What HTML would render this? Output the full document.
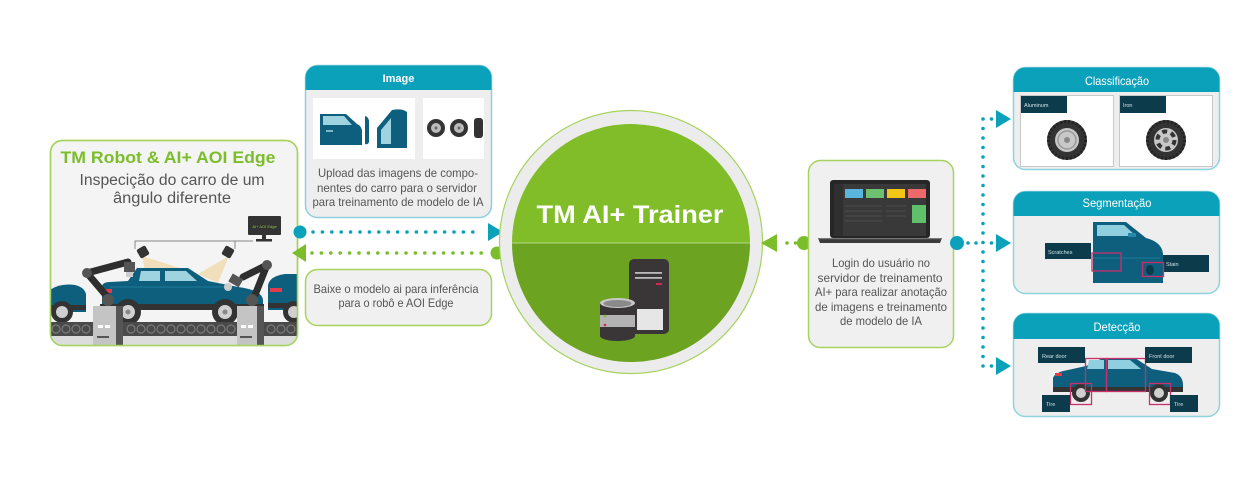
<!DOCTYPE html>
<html><head><meta charset="utf-8"><style>
html,body{margin:0;padding:0;background:#fff;}
svg{display:block;font-family:"Liberation Sans",sans-serif;}
</style></head><body>
<svg width="1240" height="484" viewBox="0 0 1240 484" xmlns="http://www.w3.org/2000/svg">
<defs>
<clipPath id="lp"><rect x="50.5" y="140.5" width="247" height="205" rx="12"/></clipPath>
</defs>
<rect width="1240" height="484" fill="#fff"/>

<!-- LEFT PANEL -->
<rect x="50.5" y="140.5" width="247" height="205" rx="12" fill="#f4f4f4" stroke="#a6d35e" stroke-width="1.5"/>
<text x="168" y="163" text-anchor="middle" font-size="16.5" font-weight="bold" fill="#7bbd2b" textLength="215" lengthAdjust="spacingAndGlyphs">TM Robot &amp; AI+ AOI Edge</text>
<text x="172" y="185" text-anchor="middle" font-size="15.5" fill="#555" textLength="185" lengthAdjust="spacingAndGlyphs">Inspecição do carro de um</text>
<text x="172" y="203" text-anchor="middle" font-size="15.5" fill="#555" textLength="118" lengthAdjust="spacingAndGlyphs">ângulo diferente</text>
<g clip-path="url(#lp)">
  <!-- monitor -->
  <rect x="248" y="216" width="33" height="19" rx="1" fill="#333"/>
  <text x="264.5" y="228" text-anchor="middle" font-size="4" fill="#8bc34a">AI+ AOI Edge</text>
  <rect x="262" y="235" width="4" height="5" fill="#333"/>
  <rect x="256" y="239" width="16" height="2.5" fill="#333"/>
  <path d="M253 241 H135 V249 M235 241 V249" stroke="#888" stroke-width="1" fill="none"/>
  <!-- light cones -->
  <polygon points="142,256 146,276 180,268" fill="#f1ddb6" opacity="0.9"/>
  <polygon points="229,256 198,274 218,283" fill="#f1ddb6" opacity="0.9"/>
  <!-- cameras -->
  <rect x="138" y="247" width="10" height="10" rx="2" fill="#333" transform="rotate(-30 143 252)"/>
  <rect x="223" y="247" width="10" height="10" rx="2" fill="#333" transform="rotate(30 228 252)"/>
  <!-- left partial car -->
  <path d="M50 312 V290 Q60 283 75 285 Q84 287 86 294 V312 Z" fill="#0e5f7e"/>
  <rect x="50" y="305" width="36" height="5" fill="#333"/>
  <circle cx="62" cy="312" r="11" fill="#333"/><circle cx="62" cy="312" r="6" fill="#d0d0d0"/>
  <!-- right partial car -->
  <path d="M268 310 V285 Q270 276 285 274 H297 V310 Z" fill="#0e5f7e"/>
  <rect x="270" y="288" width="12" height="4" fill="#e23b4b"/>
  <rect x="268" y="303" width="29" height="5" fill="#333"/>
  <circle cx="294" cy="312" r="11" fill="#333"/><circle cx="294" cy="312" r="6" fill="#d0d0d0"/>
  <!-- main car -->
  <path d="M102 308 V286 Q103 282 110 282 L128 281 L137 268 H188 L208 281 L238 287 Q262 290 263 300 V308 Z" fill="#0e5f7e"/>
  <path d="M141 271 H160 V281 H139 Z" fill="#9fd3e0"/>
  <path d="M165 271 H186 L197 281 H165 Z" fill="#9fd3e0"/>
  <rect x="104" y="289" width="8" height="4" fill="#e23b4b"/>
  <line x1="110" y1="287" x2="230" y2="287" stroke="#1d7898" stroke-width="1"/>
  <rect x="100" y="304" width="164" height="6" fill="#333"/>
  <circle cx="128" cy="312" r="13" fill="#333"/><circle cx="128" cy="312" r="7" fill="#d0d0d0"/><circle cx="128" cy="312" r="2.5" fill="#888"/>
  <circle cx="225" cy="312" r="13" fill="#333"/><circle cx="225" cy="312" r="7" fill="#d0d0d0"/><circle cx="225" cy="312" r="2.5" fill="#888"/>
  <!-- robot arms -->
  <path d="M110 300 L87 273 L128 262" stroke="#2e2e2e" stroke-width="7" fill="none" stroke-linecap="round" stroke-linejoin="round"/>
  <circle cx="87" cy="273" r="5" fill="#555"/>
  <rect x="124" y="262" width="11" height="10" fill="#555"/>
  <rect x="126" y="272" width="7" height="5" fill="#ccc"/>
  <path d="M253 300 L267 265 L243 277" stroke="#2e2e2e" stroke-width="7" fill="none" stroke-linecap="round" stroke-linejoin="round"/>
  <circle cx="267" cy="265" r="5" fill="#555"/>
  <rect x="230" y="276" width="12" height="9" fill="#555" transform="rotate(30 236 280)"/>
  <circle cx="228" cy="287" r="4" fill="#ccc"/>
  <!-- conveyor -->
  <rect x="50" y="322" width="248" height="14" fill="#4a4a4a"/>
  <g fill="none" stroke="#7a7a7a" stroke-width="1.2">
    <circle cx="56" cy="329" r="4"/><circle cx="66" cy="329" r="4"/><circle cx="76" cy="329" r="4"/><circle cx="86" cy="329" r="4"/>
    <circle cx="131" cy="329" r="4"/><circle cx="141" cy="329" r="4"/><circle cx="151" cy="329" r="4"/><circle cx="161" cy="329" r="4"/><circle cx="171" cy="329" r="4"/><circle cx="181" cy="329" r="4"/><circle cx="191" cy="329" r="4"/><circle cx="201" cy="329" r="4"/><circle cx="211" cy="329" r="4"/><circle cx="221" cy="329" r="4"/><circle cx="231" cy="329" r="4"/>
    <circle cx="271" cy="329" r="4"/><circle cx="281" cy="329" r="4"/><circle cx="291" cy="329" r="4"/>
  </g>
  <rect x="50" y="336" width="248" height="10" fill="#dcdcdc"/>
  <!-- pedestals -->
  <rect x="93" y="306" width="30" height="40" fill="#c4c4c4"/>
  <rect x="116" y="306" width="7" height="40" fill="#555"/>
  <rect x="98" y="325" width="5" height="3" fill="#fff"/><rect x="105" y="325" width="5" height="3" fill="#fff"/>
  <rect x="97" y="336" width="12" height="2" fill="#555"/>
  <circle cx="108" cy="300" r="6" fill="#555"/>
  <rect x="237" y="306" width="27" height="40" fill="#c4c4c4"/>
  <rect x="257" y="306" width="7" height="40" fill="#555"/>
  <rect x="241" y="325" width="5" height="3" fill="#fff"/><rect x="248" y="325" width="5" height="3" fill="#fff"/>
  <rect x="240" y="336" width="12" height="2" fill="#555"/>
  <circle cx="252" cy="300" r="6" fill="#555"/>
</g>
<rect x="50.5" y="140.5" width="247" height="205" rx="12" fill="none" stroke="#a6d35e" stroke-width="1.5"/>

<!-- IMAGE BOX -->
<rect x="305.5" y="65.5" width="186" height="152" rx="12" fill="#eeeeee" stroke="#8fd0dc" stroke-width="1.5"/>
<path d="M305.5 90 V77.5 A12 12 0 0 1 317.5 65.5 H479.5 A12 12 0 0 1 491.5 77.5 V90 Z" fill="#0ca1ba"/>
<text x="398.5" y="82" text-anchor="middle" font-size="11" font-weight="bold" fill="#fff">Image</text>
<rect x="313" y="98" width="102" height="61" fill="#fff"/>
<rect x="423" y="98" width="61" height="61" fill="#fff"/>
<!-- door 1 -->
<path d="M320 114 H346 L357 124 Q362 126 362 132 V145 H320 Z" fill="#0e5f7e"/>
<path d="M323 116 H344 L352 125 H323 Z" fill="#9fd3e0"/>
<rect x="326" y="130" width="7" height="2" fill="#7fb8cc"/>
<path d="M365 116 Q369 117 369 122 V142 Q368 145 365 144 Z" fill="#0e5f7e"/>
<!-- door 2 -->
<path d="M377 148 V128 L392 110 Q402 108 407 112 V148 Z" fill="#0e5f7e"/>
<path d="M381 144 V130 L391 118 V144 Z" fill="#9fd3e0"/>
<!-- tires -->
<g>
<circle cx="436" cy="128" r="9" fill="#333"/><circle cx="436" cy="128" r="5" fill="#bbb"/><circle cx="436" cy="128" r="1.5" fill="#666"/>
<circle cx="459" cy="128" r="9" fill="#333"/><circle cx="459" cy="128" r="5" fill="#bbb"/><circle cx="459" cy="128" r="1.5" fill="#666"/>
<rect x="474" y="118" width="9" height="20" rx="3" fill="#333"/>
</g>
<g font-size="12" fill="#555" text-anchor="middle">
<text x="398" y="177" textLength="160" lengthAdjust="spacingAndGlyphs">Upload das imagens de compo-</text>
<text x="397" y="192" textLength="160" lengthAdjust="spacingAndGlyphs">nentes do carro para o servidor</text>
<text x="398" y="206" textLength="171" lengthAdjust="spacingAndGlyphs">para treinamento de modelo de IA</text>
</g>

<!-- connectors left -->
<line x1="313" y1="232" x2="482" y2="232" stroke="#0ca1ba" stroke-width="3.6" stroke-linecap="round" stroke-dasharray="0 9.4"/>
<circle cx="300" cy="232" r="6.5" fill="#0ca1ba"/>
<polygon points="488,223 488,241 503,232" fill="#0ca1ba"/>
<line x1="312" y1="253" x2="486" y2="253" stroke="#7bbd2b" stroke-width="3.6" stroke-linecap="round" stroke-dasharray="0 9.4"/>
<polygon points="306,244 306,262 292,253" fill="#7bbd2b"/>
<circle cx="497" cy="253" r="6.5" fill="#7bbd2b"/>

<!-- bottom green box -->
<rect x="305.5" y="269.5" width="186" height="56" rx="12" fill="#f0f0f0" stroke="#a6d35e" stroke-width="1.5"/>
<g font-size="12" fill="#555" text-anchor="middle">
<text x="396" y="293" textLength="165" lengthAdjust="spacingAndGlyphs">Baixe o modelo ai para inferência</text>
<text x="396" y="307" textLength="115" lengthAdjust="spacingAndGlyphs">para o robô e AOI Edge</text>
</g>

<!-- CENTER CIRCLE -->
<circle cx="631" cy="242" r="131.5" fill="#ececec" stroke="#a6d35e" stroke-width="1.2"/>
<path d="M512 243 A119 119 0 0 1 750 243 Z" fill="#80bd29"/>
<path d="M512 243 A119 119 0 0 0 750 243 Z" fill="#6ca321"/>
<line x1="512" y1="243" x2="750" y2="243" stroke="#b5d98a" stroke-width="1"/>
<text x="630" y="223" text-anchor="middle" font-size="25" font-weight="bold" fill="#fff" textLength="187" lengthAdjust="spacingAndGlyphs">TM AI+ Trainer</text>
<!-- server -->
<rect x="629" y="259" width="40" height="75" rx="5" fill="#3a3536"/>
<rect x="635" y="272" width="27" height="1.8" fill="#bbb"/>
<rect x="635" y="277" width="27" height="1.8" fill="#bbb"/>
<rect x="656" y="283" width="6" height="2" fill="#d8264f"/>
<rect x="637" y="309" width="26" height="21" fill="#e6e6e6"/>
<!-- database -->
<path d="M600 303 V336 A17.5 5 0 0 0 635 336 V303 Z" fill="#3a3536"/>
<rect x="600" y="315" width="35" height="12" fill="#b3b3b3"/>
<ellipse cx="617.5" cy="303" rx="17.5" ry="5" fill="#c9c9c9"/>
<ellipse cx="617.5" cy="303.5" rx="14" ry="3.5" fill="#8a8a8a"/>
<circle cx="605" cy="316" r="1.3" fill="#7bbd2b"/>
<circle cx="605" cy="325" r="1.3" fill="#d8264f"/>

<!-- connectors right -->
<polygon points="777,234 777,252 761,243" fill="#7bbd2b"/>
<circle cx="787" cy="243" r="1.8" fill="#7bbd2b"/>
<circle cx="795.5" cy="243" r="1.8" fill="#7bbd2b"/>
<circle cx="804" cy="243" r="7" fill="#7bbd2b"/>

<!-- LAPTOP BOX -->
<rect x="808.5" y="160.5" width="145" height="187" rx="12" fill="#f0f0f0" stroke="#a6d35e" stroke-width="1.5"/>
<rect x="830" y="180" width="100" height="58" rx="3" fill="#262626"/>
<rect x="834" y="184" width="92" height="52" fill="#393939"/>
<rect x="834" y="184" width="9" height="52" fill="#2f2f2f"/>
<rect x="845" y="189" width="18" height="9" fill="#5ab6dc"/>
<rect x="866" y="189" width="18" height="9" fill="#6cc070"/>
<rect x="887" y="189" width="18" height="9" fill="#f5c518"/>
<rect x="908" y="189" width="18" height="9" fill="#ee6a6a"/>
<g stroke="#555" stroke-width="0.8">
<line x1="845" y1="206" x2="882" y2="206"/><line x1="845" y1="211" x2="882" y2="211"/><line x1="845" y1="216" x2="882" y2="216"/><line x1="845" y1="221" x2="882" y2="221"/>
<line x1="886" y1="206" x2="906" y2="206"/><line x1="886" y1="211" x2="906" y2="211"/><line x1="886" y1="216" x2="906" y2="216"/>
</g>
<rect x="912" y="205" width="14" height="18" fill="#5fbf6a"/>
<path d="M818 238 H942 L940 243 H820 Z" fill="#3a3a3a"/>
<rect x="818" y="238" width="124" height="1.2" fill="#777"/>
<g font-size="12" fill="#555" text-anchor="middle">
<text x="881" y="267" textLength="98" lengthAdjust="spacingAndGlyphs">Login do usuário no</text>
<text x="880" y="282" textLength="125" lengthAdjust="spacingAndGlyphs">servidor de treinamento</text>
<text x="881" y="296" textLength="132" lengthAdjust="spacingAndGlyphs">AI+ para realizar anotação</text>
<text x="881" y="311" textLength="132" lengthAdjust="spacingAndGlyphs">de imagens e treinamento</text>
<text x="881" y="325" textLength="82" lengthAdjust="spacingAndGlyphs">de modelo de IA</text>
</g>

<!-- right connectors -->
<circle cx="957" cy="243" r="7" fill="#0ca1ba"/>
<circle cx="968" cy="243" r="1.8" fill="#0ca1ba"/>
<circle cx="976" cy="243" r="1.8" fill="#0ca1ba"/>
<line x1="983" y1="119" x2="983" y2="367" stroke="#0ca1ba" stroke-width="3.6" stroke-linecap="round" stroke-dasharray="0 9.5"/>
<circle cx="991.5" cy="119" r="1.8" fill="#0ca1ba"/>
<circle cx="991.5" cy="243" r="1.8" fill="#0ca1ba"/>
<circle cx="991.5" cy="366" r="1.8" fill="#0ca1ba"/>
<polygon points="996,110 996,128 1011,119" fill="#0ca1ba"/>
<polygon points="996,234 996,252 1011,243" fill="#0ca1ba"/>
<polygon points="996,357 996,375 1011,366" fill="#0ca1ba"/>

<!-- CLASSIFICACAO -->
<rect x="1013.5" y="67.5" width="206" height="102" rx="12" fill="#eeeeee" stroke="#8fd3df" stroke-width="1.5"/>
<path d="M1013.5 92 V79.5 A12 12 0 0 1 1025.5 67.5 H1207.5 A12 12 0 0 1 1219.5 79.5 V92 Z" fill="#0ca1ba"/>
<text x="1117" y="85" text-anchor="middle" font-size="12" fill="#fff" textLength="64" lengthAdjust="spacingAndGlyphs">Classificação</text>
<rect x="1020.5" y="95.5" width="93" height="71" fill="#fff" stroke="#c8c8c8" stroke-width="1"/>
<rect x="1119.5" y="95.5" width="93" height="71" fill="#fff" stroke="#c8c8c8" stroke-width="1"/>
<rect x="1021" y="96" width="46" height="17" fill="#0c3b4b"/>
<rect x="1120" y="96" width="46" height="17" fill="#0c3b4b"/>
<text x="1024" y="107" font-size="5.5" fill="#cfe3ea">Aluminum</text>
<text x="1123" y="107" font-size="5.5" fill="#cfe3ea">Iron</text>
<g>
<circle cx="1067" cy="140" r="20" fill="#333"/>
<circle cx="1067" cy="140" r="18.5" fill="none" stroke="#222" stroke-width="3" stroke-dasharray="2 2"/>
<circle cx="1067" cy="140" r="12" fill="#c8c8c8"/>
<circle cx="1067" cy="140" r="9" fill="none" stroke="#999" stroke-width="1.5"/>
<circle cx="1067" cy="140" r="3" fill="#888"/>
<circle cx="1166" cy="140" r="20" fill="#333"/>
<circle cx="1166" cy="140" r="18.5" fill="none" stroke="#222" stroke-width="3" stroke-dasharray="2 2"/>
<circle cx="1166" cy="140" r="12" fill="#c8c8c8"/>
<circle cx="1166" cy="140" r="8.5" fill="none" stroke="#333" stroke-width="4" stroke-dasharray="5 4"/>
<circle cx="1166" cy="140" r="3" fill="#888"/>
</g>

<!-- SEGMENTACAO -->
<rect x="1013.5" y="191.5" width="206" height="102" rx="12" fill="#eeeeee" stroke="#8fd3df" stroke-width="1.5"/>
<path d="M1013.5 216 V203.5 A12 12 0 0 1 1025.5 191.5 H1207.5 A12 12 0 0 1 1219.5 203.5 V216 Z" fill="#0ca1ba"/>
<text x="1117" y="207" text-anchor="middle" font-size="12" fill="#fff" textLength="69" lengthAdjust="spacingAndGlyphs">Segmentação</text>
<path d="M1093 222 H1126 L1146 238 Q1162 242 1163 254 V283 H1093 Z" fill="#0e5f7e"/>
<path d="M1097 225 H1124 L1136 236 H1097 Z" fill="#8fcfe0"/>
<rect x="1128" y="233" width="8" height="4" fill="#2a87a8"/>
<line x1="1093" y1="258" x2="1160" y2="258" stroke="#1d7898" stroke-width="1"/>
<rect x="1045" y="243" width="46" height="16" fill="#0c3b4b"/>
<text x="1048" y="254" font-size="5.5" fill="#cfe3ea">Scratches</text>
<rect x="1163" y="255" width="46" height="17" fill="#0c3b4b"/>
<text x="1166" y="266" font-size="5.5" fill="#cfe3ea">Stain</text>
<rect x="1092" y="253" width="29" height="18" fill="none" stroke="#c9306b" stroke-width="1.3"/>
<rect x="1142.5" y="262.5" width="21" height="14" fill="none" stroke="#c9306b" stroke-width="1.3"/>
<ellipse cx="1150" cy="270" rx="4" ry="5" fill="#0a3a4c"/>

<!-- DETECCAO -->
<rect x="1013.5" y="313.5" width="206" height="103" rx="12" fill="#eeeeee" stroke="#8fd3df" stroke-width="1.5"/>
<path d="M1013.5 339 V325.5 A12 12 0 0 1 1025.5 313.5 H1207.5 A12 12 0 0 1 1219.5 325.5 V339 Z" fill="#0ca1ba"/>
<text x="1117" y="331" text-anchor="middle" font-size="12" fill="#fff" textLength="47" lengthAdjust="spacingAndGlyphs">Detecção</text>
<path d="M1053 392 V378 Q1055 372 1068 370 L1086 366 L1103 358 H1135 L1152 369 L1175 373 Q1183 376 1183 385 V392 Z" fill="#0e5f7e"/>
<path d="M1089 360 H1104 V369 H1087 Z" fill="#8fcfe0"/>
<path d="M1108 360 H1130 L1141 369 H1108 Z" fill="#8fcfe0"/>
<rect x="1055" y="373" width="7" height="3" fill="#e23b4b"/>
<rect x="1053" y="387" width="130" height="5" fill="#333"/>
<circle cx="1081" cy="393" r="9" fill="#333"/><circle cx="1081" cy="393" r="5" fill="#d0d0d0"/>
<circle cx="1159" cy="393" r="9" fill="#333"/><circle cx="1159" cy="393" r="5" fill="#d0d0d0"/>
<rect x="1085.5" y="358.5" width="21" height="33" fill="none" stroke="#c9306b" stroke-width="1.3"/>
<rect x="1106.5" y="358.5" width="39" height="33" fill="none" stroke="#c9306b" stroke-width="1.3"/>
<rect x="1070.5" y="383.5" width="21" height="21" fill="none" stroke="#c9306b" stroke-width="1.3"/>
<rect x="1149.5" y="383.5" width="21" height="21" fill="none" stroke="#c9306b" stroke-width="1.3"/>
<rect x="1038" y="347" width="47" height="16" fill="#0c3b4b"/>
<text x="1042" y="358" font-size="5.5" fill="#cfe3ea">Rear door</text>
<rect x="1145" y="347" width="47" height="16" fill="#0c3b4b"/>
<text x="1149" y="358" font-size="5.5" fill="#cfe3ea">Front door</text>
<rect x="1042" y="395" width="28" height="17" fill="#0c3b4b"/>
<text x="1046" y="406" font-size="5.5" fill="#cfe3ea">Tire</text>
<rect x="1170" y="395" width="28" height="17" fill="#0c3b4b"/>
<text x="1174" y="406" font-size="5.5" fill="#cfe3ea">Tire</text>
</svg>
</body></html>
